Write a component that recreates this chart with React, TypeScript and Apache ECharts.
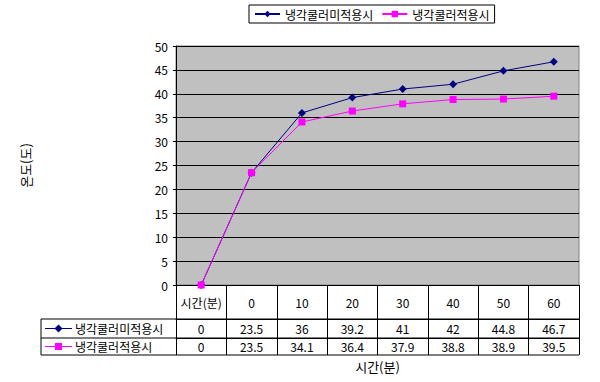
import React, { useEffect, useRef } from "react";
import * as echarts from "echarts";

const categories = ["시간(분)", "0", "10", "20", "30", "40", "50", "60"];
const seriesNames = ["냉각쿨러미적용시", "냉각쿨러적용시"];
const noCooler = [0, 23.5, 36, 39.2, 41, 42, 44.8, 46.7];
const withCooler = [0, 23.5, 34.1, 36.4, 37.9, 38.8, 38.9, 39.5];
const yTitle = "온도(도)";
const xTitle = "시간(분)";

const W = 600;
const H = 382;
const G_LEFT = 176;
const G_RIGHT = 579;
const G_TOP = 46;
const G_BOTTOM = 285;
const ROW0 = 34;
const ROW1 = 19;
const ROW2 = 17;
const TABLE_LEFT = 41;
const FONT = "'Noto Sans CJK KR', 'DejaVu Sans', sans-serif";
const NAVY = "#000080";
const MAGENTA = "#FF00FF";

export default function App() {
  const ref = useRef<HTMLDivElement>(null);
  useEffect(() => {
    if (!ref.current) return;
    const chart = echarts.init(ref.current, undefined, { renderer: "svg" });
    const yRow1 = G_BOTTOM + ROW0;
    const yRow2 = yRow1 + ROW1;
    const yEnd = yRow2 + ROW2;
    const keyRows = [
      { y: (yRow1 + yRow2) / 2, color: NAVY, name: seriesNames[0], diamond: true },
      { y: (yRow2 + yEnd) / 2, color: MAGENTA, name: seriesNames[1], diamond: false },
    ];
    const graphics: any[] = [
      { type: "line", shape: { x1: TABLE_LEFT, y1: yRow1, x2: G_RIGHT, y2: yRow1 }, style: { stroke: "#000", lineWidth: 1 } },
      { type: "line", shape: { x1: TABLE_LEFT, y1: yRow2, x2: G_RIGHT, y2: yRow2 }, style: { stroke: "#000", lineWidth: 1 } },
      { type: "line", shape: { x1: TABLE_LEFT, y1: yEnd, x2: G_RIGHT, y2: yEnd }, style: { stroke: "#000", lineWidth: 1 } },
      { type: "line", shape: { x1: TABLE_LEFT, y1: yRow1, x2: TABLE_LEFT, y2: yEnd }, style: { stroke: "#000", lineWidth: 1 } },
      {
        type: "text",
        x: (G_LEFT + G_RIGHT) / 2,
        y: 366,
        style: { text: xTitle, fontSize: 13, fontFamily: FONT, fill: "#000", align: "center", verticalAlign: "middle" },
      },
    ];
    keyRows.forEach((k) => {
      graphics.push({ type: "line", shape: { x1: 45, y1: k.y, x2: 72, y2: k.y }, style: { stroke: k.color, lineWidth: 1 } });
      if (k.diamond) {
        graphics.push({ type: "polygon", shape: { points: [[58.5, k.y - 4], [62.5, k.y], [58.5, k.y + 4], [54.5, k.y]] }, style: { fill: k.color } });
      } else {
        graphics.push({ type: "rect", shape: { x: 55, y: k.y - 3.5, width: 7, height: 7 }, style: { fill: k.color } });
      }
      graphics.push({
        type: "text",
        x: 75,
        y: k.y,
        style: { text: k.name, fontSize: 12, fontFamily: FONT, fill: "#000", align: "left", verticalAlign: "middle" },
      });
    });

    const labelStyle = { color: "#000", fontSize: 12, fontFamily: FONT };
    chart.setOption({
      animation: false,
      legend: {
        top: 5,
        left: 249,
        data: seriesNames,
        borderColor: "#000",
        borderWidth: 1,
        borderRadius: 0,
        padding: [3, 5, 3, 5],
        itemWidth: 25,
        itemHeight: 8,
        itemGap: 8,
        textStyle: { color: "#000", fontSize: 12, fontFamily: FONT },
      },
      grid: {
        left: G_LEFT,
        right: W - G_RIGHT,
        top: G_TOP,
        bottom: H - G_BOTTOM,
        show: true,
        backgroundColor: "#C0C0C0",
        borderColor: "#808080",
        borderWidth: 1,
      },
      xAxis: [
        {
          type: "category",
          data: categories,
          boundaryGap: true,
          axisLine: { lineStyle: { color: "#000", width: 1 } },
          axisTick: { show: true, interval: 0, length: ROW0, alignWithLabel: false, lineStyle: { color: "#000" } },
          axisLabel: { ...labelStyle, interval: 0, margin: 11 },
          splitLine: { show: false },
        },
        {
          type: "category",
          data: categories,
          offset: ROW0,
          position: "bottom",
          axisLine: { show: true, lineStyle: { color: "#000", width: 1 } },
          axisTick: { show: true, interval: 0, length: ROW1, alignWithLabel: false, lineStyle: { color: "#000" } },
          axisLabel: { ...labelStyle, interval: 0, margin: 3, formatter: (_v: string, i: number) => String(noCooler[i]) },
        },
        {
          type: "category",
          data: categories,
          offset: ROW0 + ROW1,
          position: "bottom",
          axisLine: { show: true, lineStyle: { color: "#000", width: 1 } },
          axisTick: { show: true, interval: 0, length: ROW2, alignWithLabel: false, lineStyle: { color: "#000" } },
          axisLabel: { ...labelStyle, interval: 0, margin: 2, formatter: (_v: string, i: number) => String(withCooler[i]) },
        },
      ],
      yAxis: {
        type: "value",
        min: 0,
        max: 50,
        interval: 5,
        name: yTitle,
        nameLocation: "middle",
        nameGap: 144,
        nameTextStyle: { color: "#000", fontSize: 13, fontFamily: FONT },
        axisLine: { show: true, lineStyle: { color: "#000", width: 1 } },
        axisTick: { show: true, length: 3, lineStyle: { color: "#000" } },
        axisLabel: { ...labelStyle, margin: 8 },
        splitLine: { show: true, lineStyle: { color: "#000", width: 1 } },
      },
      series: [
        {
          name: seriesNames[0],
          type: "line",
          data: noCooler,
          symbol: "diamond",
          symbolSize: 8,
          color: NAVY,
          lineStyle: { color: NAVY, width: 1 },
          itemStyle: { color: NAVY },
        },
        {
          name: seriesNames[1],
          type: "line",
          data: withCooler,
          symbol: "rect",
          symbolSize: 7,
          color: MAGENTA,
          lineStyle: { color: MAGENTA, width: 1 },
          itemStyle: { color: MAGENTA },
        },
      ],
      graphic: graphics,
    });
    return () => chart.dispose();
  }, []);
  return <div ref={ref} style={{ width: W, height: H, position: "absolute", left: 0, top: 0 }} />;
}
